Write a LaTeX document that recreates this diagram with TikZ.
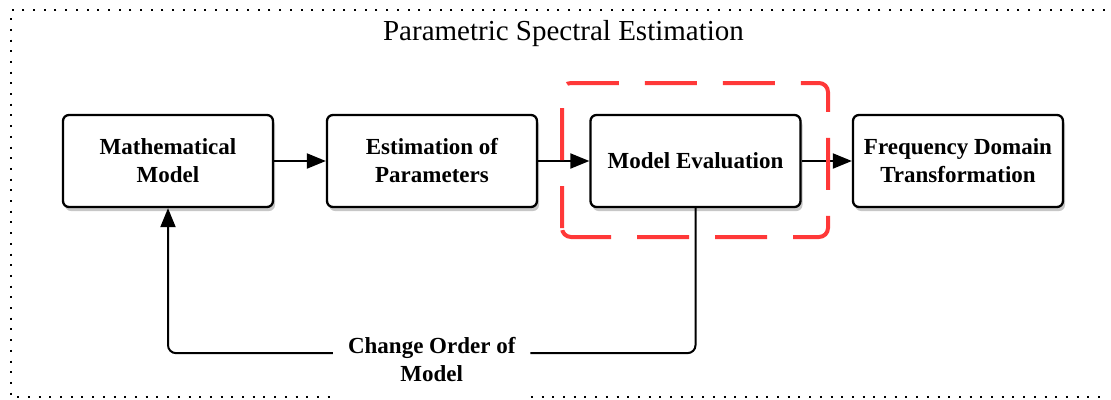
\documentclass[tikz,border=0pt]{standalone}
\usepackage{fontspec}
\setmainfont{Liberation Serif}
\usetikzlibrary{arrows.meta,shadows}
\definecolor{hred}{RGB}{255,56,56}
\begin{document}
\begin{tikzpicture}[x=1pt,y=-1pt,
  box/.style={draw=black, line width=2.3pt, rounded corners=6pt, fill=white,
    minimum width=210pt, minimum height=92pt, align=center, inner sep=0pt,
    font=\fontsize{23}{28}\selectfont\bfseries,
    drop shadow={shadow xshift=2pt, shadow yshift=-4pt, opacity=0.22, fill=black}},
  conn/.style={line width=2pt, -{Triangle[length=19pt,width=15pt]}},
  frame/.style={line width=2pt, dash pattern=on 2pt off 8.7pt},
  hilite/.style={draw=hred, line width=4pt, rounded corners=9pt, dash pattern=on 52pt off 26pt, dash phase=10pt},
  lbl/.style={fill=white, align=center, inner xsep=15pt, inner ysep=21pt,
    font=\fontsize{23}{28}\selectfont\bfseries},
]
\useasboundingbox (0,0) rectangle (1111,399);
\draw[frame] (1105,10) -- (11,10) -- (11,397) -- (1105,397);
\node[anchor=base, font=\fontsize{29}{34}\selectfont] (title) at (563.5,40) {Parametric Spectral Estimation};
\node[box] (math) at (168,161) {Mathematical\\Model};
\node[box] (est) at (432,161) {Estimation of\\Parameters};
\node[box] (eval) at (695.5,161) {Model Evaluation};
\node[box] (freq) at (958,161) {Frequency Domain\\Transformation};
\draw[conn] (math) -- (est);
\draw[conn] (est) -- (eval);
\draw[conn] (eval) -- (freq);
\draw[hilite] (562,237) rectangle (828,83);
\draw[conn, rounded corners=8pt] (eval.south) -- ++(0,145) -| node[pos=0.25, lbl, yshift=-6pt] (chg) {Change Order of\\Model} (math.south);
\end{tikzpicture}
\end{document}
